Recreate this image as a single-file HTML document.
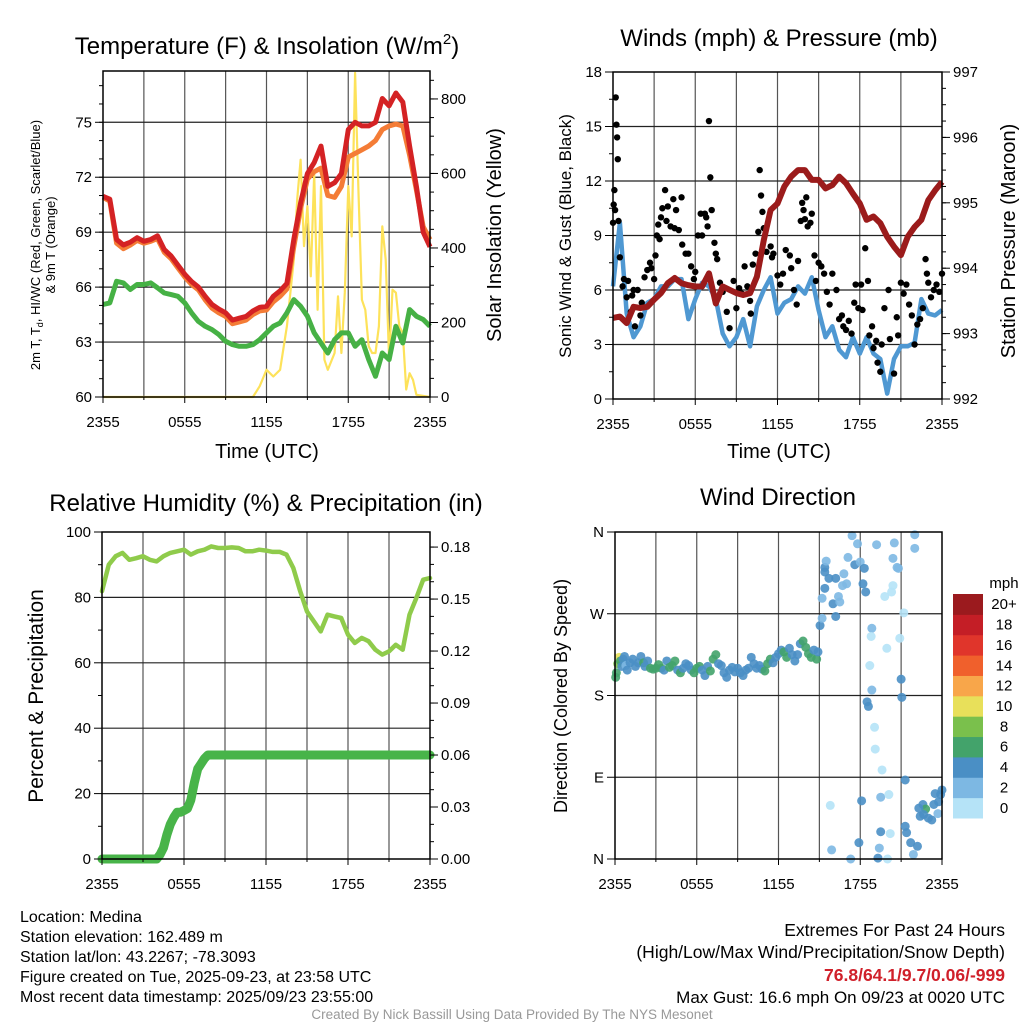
<!DOCTYPE html>
<html><head><meta charset="utf-8">
<style>
html,body{margin:0;padding:0;background:#fff;}
svg{display:block;font-family:"Liberation Sans",sans-serif;}
</style></head>
<body>
<svg id="chart" width="1024" height="1024" viewBox="0 0 1024 1024" xmlns="http://www.w3.org/2000/svg">
<rect x="0" y="0" width="1024" height="1024" fill="#fff"/>
<text x="267" y="54" font-size="24" text-anchor="middle">Temperature (F) &amp; Insolation (W/m<tspan font-size="15" dy="-10">2</tspan><tspan dy="10">)</tspan></text>
<text x="779" y="46" font-size="24" text-anchor="middle">Winds (mph) &amp; Pressure (mb)</text>
<text x="266" y="511" font-size="24" text-anchor="middle">Relative Humidity (%) &amp; Precipitation (in)</text>
<text x="778" y="505" font-size="24" text-anchor="middle">Wind Direction</text>
<text x="267" y="458" font-size="20" text-anchor="middle">Time (UTC)</text>
<text x="779" y="458" font-size="20" text-anchor="middle">Time (UTC)</text>
<text transform="translate(40,245) rotate(-90)" font-size="13" text-anchor="middle"><tspan x="0" dy="0">2m T, T<tspan font-size="9" dy="3">d</tspan><tspan dy="-3">, HI/WC (Red, Green, Scarlet/Blue)</tspan></tspan><tspan x="0" dy="15">&amp; 9m T (Orange)</tspan></text>
<text transform="translate(501,235) rotate(-90)" font-size="20" text-anchor="middle">Solar Insolation (Yellow)</text>
<text transform="translate(571,236) rotate(-90)" font-size="17" text-anchor="middle">Sonic Wind &amp; Gust (Blue, Black)</text>
<text transform="translate(1015,241) rotate(-90)" font-size="20" text-anchor="middle">Station Pressure (Maroon)</text>
<text transform="translate(43,696) rotate(-90)" font-size="21" text-anchor="middle">Percent &amp; Precipitation</text>
<text transform="translate(567,696) rotate(-90)" font-size="18" text-anchor="middle">Direction (Colored By Speed)</text>
<g font-size="16">
<text x="20" y="922">Location: Medina</text>
<text x="20" y="942">Station elevation: 162.489 m</text>
<text x="20" y="962">Station lat/lon: 43.2267; -78.3093</text>
<text x="20" y="982">Figure created on Tue, 2025-09-23, at 23:58 UTC</text>
<text x="20" y="1002">Most recent data timestamp: 2025/09/23 23:55:00</text>
</g>
<g font-size="17.5" text-anchor="end">
<text x="1005" y="936">Extremes For Past 24 Hours</text>
<text x="1005" y="958">(High/Low/Max Wind/Precipitation/Snow Depth)</text>
<text x="1005" y="981" fill="#d0202a" font-weight="bold">76.8/64.1/9.7/0.06/-999</text>
<text x="1005" y="1003" font-size="17">Max Gust: 16.6 mph On 09/23 at 0020 UTC</text>
</g>
<text x="512" y="1019" font-size="13.5" fill="#999" text-anchor="middle">Created By Nick Bassill Using Data Provided By The NYS Mesonet</text>
<text x="1004" y="588" font-size="15" text-anchor="middle">mph</text>
<g id="cbar"></g>
<g id="plots"></g>
</svg>
<script>
const halfHours = [0,0.5,1,1.5,2,2.5,3,3.5,4,4.5,5,5.5,6,6.5,7,7.5,8,8.5,9,9.5,10,10.5,11,11.5,12,12.5,13,13.5,14,14.5,15,15.5,16,16.5,17,17.5,18,18.5,19,19.5,20,20.5,21,21.5,22,22.5,23,23.5,24];
const tempRed = [70.96,70.8,68.6,68.3,68.45,68.7,68.5,68.6,68.8,68.05,67.7,67.2,66.7,66.3,66.0,65.5,65.05,64.8,64.6,64.2,64.3,64.4,64.7,64.9,64.95,65.5,65.8,66.2,68.6,70.6,72.2,72.8,73.7,71.5,71.7,72.2,74.6,75.0,74.8,74.8,75.0,76.3,75.9,76.6,76.1,73.7,71.5,69.0,68.2];
const temp9m = [70.9,70.7,68.4,68.1,68.3,68.55,68.4,68.5,68.65,67.9,67.55,67.05,66.55,66.15,65.85,65.3,64.85,64.6,64.4,64.0,64.1,64.2,64.5,64.7,64.75,65.2,65.5,65.9,68.2,70.3,71.9,72.3,72.5,71.0,70.9,71.5,73.1,73.3,73.5,73.7,74.0,74.6,74.8,74.9,74.8,73.2,71.3,69.3,68.6];
const dewpoint = [65.05,65.14,66.32,66.23,65.87,66.14,66.14,66.23,65.96,65.68,65.59,65.5,65.14,64.59,64.13,63.86,63.68,63.41,63.04,62.86,62.77,62.77,62.86,63.13,63.5,63.86,64.04,64.59,65.32,64.95,64.41,63.5,62.95,62.4,63.13,63.5,63.5,62.77,63.13,62.04,61.13,62.4,62.04,63.86,62.95,64.77,64.41,64.23,63.86];
const insTimes = [0,11,11.5,12,12.5,13,13.5,14,14.25,14.5,14.75,15,15.25,15.5,15.75,16,16.25,16.5,17,17.25,17.5,17.75,18,18.25,18.5,18.75,19,19.25,19.5,19.75,20,20.25,20.5,20.75,21,21.25,21.5,21.75,22,22.25,22.5,22.75,23,24];
const insValues = [0,0,29,73,55,73,190,369,530,637,405,512,324,601,234,566,100,73,118,270,118,280,566,431,870,548,261,234,136,118,118,190,458,369,100,288,280,190,172,20,64,46,6,0];
const windSonic = [6.2,9.7,4.7,3.4,4.0,5.3,5.5,6.2,6.2,6.6,6.6,4.4,5.5,6.4,6.2,5.5,3.6,2.9,3.4,4.4,2.9,5.1,6.0,6.7,4.7,5.3,5.5,6.2,5.8,6.7,4.9,3.4,4.0,2.7,2.3,3.4,2.5,3.4,2.5,2.2,0.3,2.2,2.9,2.9,3.1,5.5,4.7,4.6,4.9];
const pressure = [993.24,993.26,993.16,993.41,993.39,993.41,993.52,993.62,993.77,993.85,993.77,993.74,993.72,993.72,993.92,993.46,993.72,993.67,993.62,993.59,993.62,993.87,994.43,994.89,994.99,995.25,995.4,995.5,995.5,995.35,995.35,995.22,995.27,995.4,995.3,995.14,994.99,994.74,994.79,994.69,994.48,994.33,994.2,994.48,994.63,994.74,995.04,995.19,995.32];
const gustTimes = [0.0,0.05,0.1,0.15,0.2,0.25,0.3,0.35,0.4,0.5,0.7,0.8,1,1.1,1.3,1.4,1.5,1.6,1.8,2,2.1,2.3,2.5,2.7,2.8,3,3.1,3.2,3.3,3.4,3.5,3.6,3.8,3.9,4,4.2,4.4,4.5,4.6,4.8,5,5.05,5.3,5.5,5.7,5.9,6,6.2,6.4,6.5,6.7,6.8,6.9,7,7.1,7.2,7.4,7.5,7.6,7.8,8,8.3,8.5,8.8,9,9.2,9.4,9.6,9.8,10,10.05,10.2,10.4,10.6,10.7,10.8,10.9,11,11.2,11.5,11.6,11.7,12,12.2,12.4,12.6,12.9,13.0,13.2,13.4,13.5,13.7,13.8,13.9,14.0,14.1,14.2,14.4,14.5,14.7,14.8,15,15.2,15.4,15.6,15.8,16,16.3,16.5,16.7,16.8,17,17.2,17.4,17.6,17.7,17.9,18.1,18.2,18.4,18.6,18.7,18.9,19.0,19.2,19.3,19.5,19.6,19.8,20.1,20.2,20.5,20.7,20.8,21,21.2,21.4,21.6,21.8,22,22.2,22.4,22.6,22.8,22.9,23.0,23.2,23.4,23.6,23.8,24];
const gustValues = [9.7,10.7,11.5,10.4,16.6,15.1,14.4,13.2,9.8,7.8,6.2,6.6,5.6,6.5,4.8,5.7,6.0,4.0,6.0,4.6,5.3,6.7,7.1,7.5,7.2,6.6,7.9,9.0,9.6,8.8,10.0,10.5,11.5,9.8,10.6,9.5,11.0,9.4,10.4,9.3,11.1,8.5,8.0,8.0,7.3,6.6,7.0,9.0,10.2,9.0,10.2,10.0,9.5,15.3,12.2,10.4,8.6,8.0,7.7,6.4,5.9,4.8,3.9,6.5,5.0,6.1,5.8,7.3,6.2,5.4,4.7,7.4,8.0,9.2,12.6,11.2,10.3,9.4,8.1,8.4,7.8,8.0,6.8,6.3,6.9,8.2,7.9,7.2,6.0,5.2,7.6,9.8,10.8,10.4,9.9,11.1,9.5,9.7,10.2,7.9,6.5,7.5,7.3,6.9,5.9,5.2,6.9,6.0,4.4,4.6,4.0,3.8,4.3,3.6,5.3,6.3,5.0,6.3,4.9,8.3,6.5,3.5,4.0,2.8,3.2,2.0,1.5,3.0,5.0,6.0,3.3,1.4,4.5,3.5,6.4,5.8,6.3,5.2,4.6,3.0,4.1,4.4,5.0,7.7,6.9,6.4,5.6,6.0,6.3,5.9,6.9];
const rhValues = [81.9,90.0,92.6,93.6,91.5,92.0,92.6,91.5,91.0,92.6,93.6,94.1,94.6,93.1,94.1,94.6,95.6,95.1,95.1,95.3,95.1,94.1,94.1,94.6,94.3,93.9,93.9,93.1,89.0,81.9,75.7,72.7,69.6,74.7,74.2,73.7,68.6,66.1,67.6,66.6,64.0,62.5,63.5,65.5,64.0,74.7,79.8,85.4,85.9];
const precipTimes = [0,4,4.25,4.5,4.75,5,5.25,5.5,5.75,6,6.25,6.5,6.75,7,7.25,7.5,7.75,24];
const precipValues = [0,0,0.0026,0.0065,0.014,0.02,0.024,0.027,0.027,0.028,0.029,0.034,0.044,0.052,0.055,0.058,0.06,0.06];
const dirTimes = [0.05,0.1,0.2,0.3,0.4,0.5,0.6,0.7,0.8,0.9,1.1,1.3,1.5,1.7,1.9,2.1,2.2,2.4,2.6,2.8,3.0,3.2,3.4,3.6,3.8,4.0,4.2,4.4,4.6,4.8,5.0,5.2,5.4,5.6,5.8,6.0,6.2,6.4,6.6,6.8,7.0,7.2,7.4,7.6,7.8,8.0,8.2,8.4,8.6,8.8,9.0,9.2,9.4,9.6,9.8,10.0,10.2,10.4,10.6,10.8,11.0,11.2,11.4,11.6,11.8,12.0,12.2,12.4,12.6,12.8,13.0,13.2,13.4,13.6,13.8,14.0,14.2,14.4,14.6,14.8,14.9,
15.05,15.2,15.2,15.4,15.4,15.4,15.5,15.7,16.0,16.2,16.2,16.4,16.5,16.7,16.8,17.0,17.1,17.4,17.6,17.8,18.0,18.2,18.3,18.4,18.85,18.8,18.5,18.6,18.85,18.7,19.05,19.1,19.6,19.5,20.1,18.1,15.8,15.9,17.3,17.9,19.3,19.4,20.0,19.5,20.2,19.2,19.8,20.3,20.4,20.4,20.5,20.7,20.8,19.95,20.9,21.0,21.05,21.2,21.3,21.3,21.4,21.7,21.9,22.0,22.0,22.2,22.4,22.6,22.8,23.0,23.25,23.4,23.5,23.7,23.75,23.9,24.0,22.65,22.3];
const dirDegrees = [200,205,215,222,218,212,220,223,213,208,216,220,212,216,223,216,212,218,210,209,210,214,210,208,218,211,213,218,208,205,210,215,213,208,205,210,212,208,202,212,207,220,225,215,213,205,200,208,211,206,210,205,202,208,210,222,215,210,213,209,207,215,220,216,222,226,230,228,222,232,225,218,225,237,240,233,226,222,230,220,228,
257,265,287,298,316,321,328,309,281,267,309,289,283,301,314,303,332,356,324,347,327,303,320,294,254,245,173,168,186,213,145,121,98,68,71,64,59,10,0,18,1,12,0,30,28,346,289,294,301,331,348,321,320,232,243,198,178,271,87,36,29,18,5,357,342,14,47,60,55,45,43,60,72,50,63,71,76,49,56];
const dirSpeeds = [7,7,9,10,6,5,4,5,3,5,4,5,4,5,5,6,4,4,6,7,6,7,6,5,5,6,7,7,5,6,5,5,5,5,6,6,7,5,5,4,6,7,6,5,5,5,4,4,4,5,4,5,5,5,4,5,5,5,5,5,6,6,6,5,5,5,5,6,6,5,5,4,4,5,6,6,6,6,5,6,5,
5,3,3,5,5,5,3,5,5,5,5,3,3,3,3,3,3,3,5,3,3,5,5,5,3,1,5,5,3,1,1,1,1,3,1,5,1,3,3,5,5,3,1,5,1,3,1,1,1,3,3,3,3,1,1,5,5,1,5,5,5,5,3,3,3,5,5,5,7,5,5,5,5,3,5,5,5,5,5];
const cbarLabels = ["0","2","4","6","8","10","12","14","16","18","20+"];
const cbarColors = ["#b5e3f7","#7db8e3","#4a8fc5","#43a36b","#7ac04c","#e8e05a","#f8a64a","#f0602c","#e0352b","#c41e26","#9b1a1e"];
const xTickHours = [0,6,12,18,24];
const xTickLabels = ["2355","0555","1155","1755","2355"];

const NS = "http://www.w3.org/2000/svg";
const root = document.getElementById("plots");
function mk(tag, attrs, parent){
  const e = document.createElementNS(NS, tag);
  for (const k in attrs) e.setAttribute(k, attrs[k]);
  (parent||root).appendChild(e);
  return e;
}
function lin(d0,d1,r0,r1){ return v => r0 + (v-d0)/(d1-d0)*(r1-r0); }
function pathFrom(xs, ys, fx, fy){
  let d = "";
  for (let i=0;i<xs.length;i++) d += (i?"L":"M") + fx(xs[i]).toFixed(1) + "," + fy(ys[i]).toFixed(1);
  return d;
}
function speedColor(s){ return cbarColors[Math.min(10, Math.floor(s/2))]; }

function frame(P, name){
  const g = mk("g", {});
  
  
  for (let h=3; h<24; h+=3){
    const x = P.x(h);
    const l = mk("line", {x1:x, y1:P.T, x2:x, y2:P.B, stroke:"#555", "stroke-width":1.2}, g);
    
    
  }
  return g;
}
function hgrid(P, ys, g){
  ys.forEach(y=>{
    const l = mk("line", {x1:P.L, y1:y, x2:P.R, y2:y, stroke:"#222", "stroke-width":1.2}, g);
    
    
  });
}
function box(P){
  const r = mk("rect", {x:P.L, y:P.T, width:P.R-P.L, height:P.B-P.T, fill:"none", stroke:"#000", "stroke-width":1.5});
  
  
}
function xAxis(P, name){
  const g = mk("g", {"font-size":15, "text-anchor":"middle"});
  
  
  for (let h=0; h<=24; h+=3){
    const t = mk("line", {x1:P.x(h), y1:P.B, x2:P.x(h), y2:P.B+(h%6===0?6:3), stroke:"#000"}, g);
    
    
  }
  xTickHours.forEach((h,i)=>{
    const t = mk("text", {x:P.x(h), y:P.B+30}, g);
    t.textContent = xTickLabels[i];
    
    
  });
}
function yAxis(P, fy, side, majors, minors, labels, name){
  const g = mk("g", {"font-size":15, "text-anchor": side==="left"?"end":"start"});
  
  
  const x0 = side==="left"?P.L:P.R, dir = side==="left"?-1:1;
  minors.forEach(v=>{
    const t = mk("line", {x1:x0, y1:fy(v), x2:x0+dir*4, y2:fy(v), stroke:"#000"}, g);
    
    
  });
  majors.forEach((v,i)=>{
    const t = mk("line", {x1:x0, y1:fy(v), x2:x0+dir*8, y2:fy(v), stroke:"#000"}, g);
    
    
    const tx = mk("text", {x:x0+dir*11, y:fy(v)+5}, g);
    tx.textContent = labels[i];
    
    
  });
}
function range(a,b,s){ const r=[]; for(let v=a; v<=b+1e-9; v+=s) r.push(+v.toFixed(4)); return r; }

const P1 = {L:103,R:430,T:71,B:397}; P1.x = lin(0,24,P1.L,P1.R);
const yT = lin(60,77.8,P1.B,P1.T), yI = lin(0,875,P1.B,P1.T);
const g1 = frame(P1,'temperature');
hgrid(P1, [63,66,69,72,75].map(yT), g1);
let e;
e = mk("path",{d:pathFrom(insTimes,insValues,P1.x,yI),fill:"none",stroke:"#fde25a","stroke-width":2.2,"stroke-linejoin":"round"});


e = mk("path",{d:pathFrom(halfHours,dewpoint,P1.x,yT),fill:"none",stroke:"#46b145","stroke-width":5,"stroke-linejoin":"round"});


e = mk("path",{d:pathFrom(halfHours,temp9m,P1.x,yT),fill:"none",stroke:"#f47c36","stroke-width":5,"stroke-linejoin":"round"});


e = mk("path",{d:pathFrom(halfHours,tempRed,P1.x,yT),fill:"none",stroke:"#d42224","stroke-width":5,"stroke-linejoin":"round"});


box(P1); xAxis(P1,'temperature');
yAxis(P1, yT, "left", [60,63,66,69,72,75], range(61,77,1), ["60","63","66","69","72","75"], 'temperature-y-axis');
yAxis(P1, yI, "right", [0,200,400,600,800], range(50,850,50), ["0","200","400","600","800"], 'insolation-y-axis');

const P2 = {L:613,R:942,T:72,B:399}; P2.x = lin(0,24,P2.L,P2.R);
const yW = lin(0,18,P2.B,P2.T), yP = lin(992,997,P2.B,P2.T);
const g2 = frame(P2,'winds');
hgrid(P2, [3,6,9,12,15].map(yW), g2);
e = mk("path",{d:pathFrom(halfHours,windSonic,P2.x,yW),fill:"none",stroke:"#4f98d2","stroke-width":4.5,"stroke-linejoin":"round"});


const gg = mk("g",{fill:"#000"});


gustTimes.forEach((h,i)=>{
  const c = mk("circle",{cx:P2.x(h), cy:yW(gustValues[i]), r:3.2}, gg);
  
  
});
e = mk("path",{d:pathFrom(halfHours,pressure,P2.x,yP),fill:"none",stroke:"#9b1b1b","stroke-width":6,"stroke-linejoin":"round"});


box(P2); xAxis(P2,'winds');
yAxis(P2, yW, "left", [0,3,6,9,12,15,18], range(1.5,16.5,1.5), ["0","3","6","9","12","15","18"], 'wind-y-axis');
yAxis(P2, yP, "right", [992,993,994,995,996,997], range(992.25,996.75,0.25), ["992","993","994","995","996","997"], 'pressure-y-axis');

const P3 = {L:102,R:430,T:532,B:859}; P3.x = lin(0,24,P3.L,P3.R);
const yR = lin(0,100,P3.B,P3.T), yPr = lin(0,0.1887,P3.B,P3.T);
const g3 = frame(P3,'humidity');
hgrid(P3, [20,40,60,80].map(yR), g3);
e = mk("path",{d:pathFrom(halfHours,rhValues,P3.x,yR),fill:"none",stroke:"#8fcb4b","stroke-width":4.5,"stroke-linejoin":"round","stroke-linecap":"round"});


e = mk("path",{d:pathFrom(precipTimes,precipValues,P3.x,yPr),fill:"none",stroke:"#48b449","stroke-width":9,"stroke-linejoin":"round","stroke-linecap":"round"});


box(P3); xAxis(P3,'humidity');
yAxis(P3, yR, "left", [0,20,40,60,80,100], range(10,90,20), ["0","20","40","60","80","100"], 'rh-y-axis');
yAxis(P3, yPr, "right", [0,0.03,0.06,0.09,0.12,0.15,0.18], range(0.01,0.18,0.01), ["0.00","0.03","0.06","0.09","0.12","0.15","0.18"], 'precip-y-axis');

const P4 = {L:615,R:942,T:532,B:859}; P4.x = lin(0,24,P4.L,P4.R);
const yD = lin(0,360,P4.B,P4.T);
const g4 = frame(P4,'direction');
hgrid(P4, [90,180,270].map(yD), g4);
const gd = mk("g",{"fill-opacity":0.9});


dirTimes.forEach((h,i)=>{
  const c = mk("circle",{cx:P4.x(h), cy:yD(dirDegrees[i]), r:4.5, fill:speedColor(dirSpeeds[i])}, gd);
  
  
});
box(P4); xAxis(P4,'direction');
yAxis(P4, yD, "left", [0,90,180,270,360], [], ["N","E","S","W","N"], 'direction-y-axis');

const cb = document.getElementById("cbar");
const cbTop = 594, cbH = 224/11;
cbarColors.forEach((c,i)=>{
  const y = cbTop + (10-i)*cbH;
  const r = mk("rect",{x:953, y:y, width:30, height:cbH+0.5, fill:c}, cb);
  
  
  const t = mk("text",{x:1004, y:y+cbH/2+5, "font-size":15, "text-anchor":"middle"}, cb);
  t.textContent = cbarLabels[i];
  
  
});
</script>
</body></html>
